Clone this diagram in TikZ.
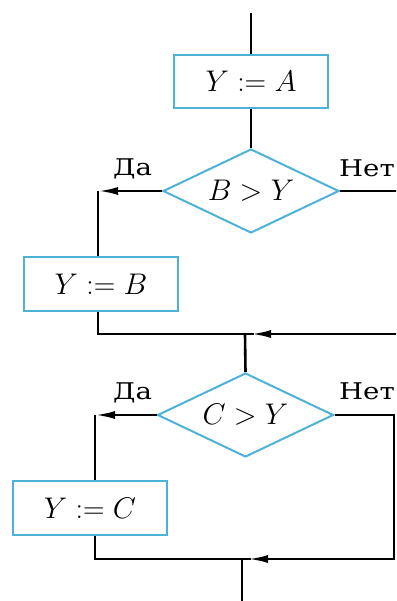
\documentclass[tikz,border=0pt]{standalone}
\usepackage{graphicx}
\usepackage[no-math]{fontspec}
\setmainfont{DejaVu Serif}
\newfontfamily\lblfont[FakeStretch=1.2]{DejaVu Serif}
\usetikzlibrary{shapes.geometric,arrows.meta}
\definecolor{fcblue}{RGB}{78,178,214}
\newcommand{\fcmath}[1]{\scalebox{1.2}{$#1$}}
\begin{document}
\begin{tikzpicture}[x=1pt,y=-1pt,
  conn/.style={draw=black, line width=2.6pt},
  arr/.style={conn, -{Latex[length=20pt,width=8pt]}},
  procbox/.style={draw=fcblue, line width=2pt, fill=white, minimum width=154pt, minimum height=53pt, inner sep=0pt, font=\fontsize{24.88}{30}\selectfont},
  decis/.style={diamond, aspect=2.1, draw=fcblue, line width=2pt, fill=white, minimum width=176pt, minimum height=84pt, inner sep=0pt, font=\fontsize{24.88}{30}\selectfont},
  lbl/.style={font=\lblfont\fontsize{23}{28}\selectfont, inner sep=0pt}
]
\useasboundingbox (0,0) rectangle (396,601);
\clip (0,0) rectangle (396,601);

\coordinate (top) at (251,13);
\node[procbox] (bA) at (251,81.5) {\fcmath{Y := A}};
\node[decis] (dB) at (251,191) {\fcmath{B > Y}};
\node[lbl, anchor=base west] (yes1) at (113,176) {Да};
\node[lbl, anchor=base east] (no1) at (395,177) {Нет};
\coordinate (cB) at (98,191);
\node[procbox, minimum height=54pt] (bB) at (101,284) {\fcmath{Y := B}};
\coordinate (mB) at (98,334);
\coordinate (j1) at (245,334);
\coordinate (eB) at (410,191);
\coordinate (eB2) at (410,334);

\node[decis] (dC) at (245.5,415) {\fcmath{C > Y}};
\node[lbl, anchor=base west] (yes2) at (113,399) {Да};
\node[lbl, anchor=base east] (no2) at (395,399) {Нет};
\coordinate (cC) at (95,415);
\node[procbox, minimum height=54pt] (bC) at (90,508) {\fcmath{Y := C}};
\coordinate (mC) at (95,559);
\coordinate (j2) at (242,559);
\coordinate (rC) at (394,415);
\coordinate (rC2) at (394,559);
\coordinate (bot) at (242,605);

\draw[conn] (top) -- (bA.north);
\draw[conn] (bA.south) -- (dB.north);
\draw[arr] (dB.west) -- (cB);
\draw[conn] (cB) -- (cB |- bB.north);
\draw[conn] (cB |- bB.south) -- (mB) -- ([xshift=9pt]j1);
\draw[arr, shorten >=6pt] (dB.east) -- (eB) -- (eB2) -- (j1);
\draw[conn] (j1) -- (dC.north);

\draw[arr] (dC.west) -- (cC);
\draw[conn] (cC) -- (cC |- bC.north);
\draw[conn] (cC |- bC.south) -- (mC) -- ([xshift=9pt]j2);
\draw[arr, shorten >=6pt] (dC.east) -- (rC) -- (rC2) -- (j2);
\draw[conn] (j2) -- (bot);
\end{tikzpicture}
\end{document}
